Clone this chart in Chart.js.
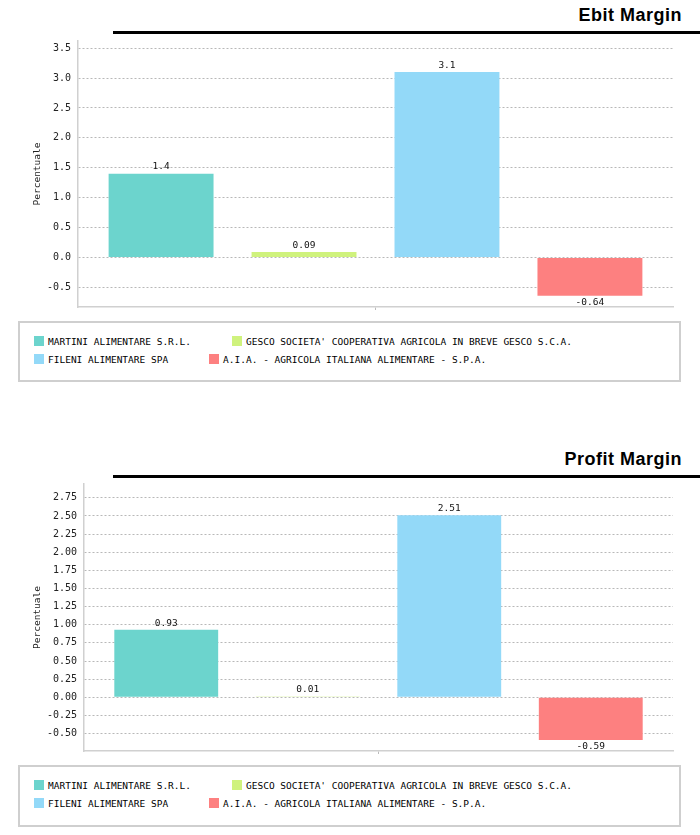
<!DOCTYPE html>
<html>
<head>
<meta charset="utf-8">
<script src="https://cdn.jsdelivr.net/npm/chart.js@4"></script>
<style>
  body { margin: 0; background: #fff; width: 700px; height: 835px; position: relative; overflow: hidden; }
  .title { position: absolute; right: 18px; font: bold 18px "Liberation Sans", Arial, sans-serif; letter-spacing: 0.5px; line-height: 18px; color: #000; }
  .rule { position: absolute; left: 113px; width: 587px; height: 3px; background: #000; }
  canvas { position: absolute; left: 0; }
  .legend { position: absolute; left: 18px; width: 663px; border: 2px solid #cfcfcf; padding: 10px 0 0 14px; box-sizing: border-box;
            font: 9.5px "DejaVu Sans Mono", monospace; color: #000; }
  .legend .row { height: 18px; line-height: 18px; white-space: nowrap; }
  .legend .item { display: inline-block; margin-right: 41px; }
  .legend .sw { display: inline-block; width: 10px; height: 10px; margin-right: 4px; vertical-align: -1px; }
</style>
</head>
<body>

<div class="title" style="top:6px">Ebit Margin</div>
<div class="rule" style="top:31px"></div>
<canvas id="ebitChart" width="700" height="292" style="top:28px"></canvas>
<div class="legend" id="ebitLegend" style="top:321px;height:61px"></div>

<div class="title" style="top:450px">Profit Margin</div>
<div class="rule" style="top:475px"></div>
<canvas id="profitChart" width="700" height="293" style="top:471px"></canvas>
<div class="legend" id="profitLegend" style="top:765px;height:62px"></div>

<script>
// Companies and colours
const companies = [
    'MARTINI ALIMENTARE S.R.L.',
    "GESCO SOCIETA' COOPERATIVA AGRICOLA IN BREVE GESCO S.C.A.",
    'FILENI ALIMENTARE SPA',
    'A.I.A. - AGRICOLA ITALIANA ALIMENTARE - S.P.A.'
];
const colors = ['#6cd4cd', '#cff27d', '#93d9f8', '#fd8080'];

// Values (percent)
const ebitValues = [1.4, 0.09, 3.1, -0.64];
const profitValues = [0.93, 0.01, 2.51, -0.59];

// Y axis ticks and range
const ebitTicks = [-0.5, 0, 0.5, 1.0, 1.5, 2.0, 2.5, 3.0, 3.5];
const ebitTickLabels = ['-0.5', '0.0', '0.5', '1.0', '1.5', '2.0', '2.5', '3.0', '3.5'];
const ebitRange = [-0.83, 3.62];
const profitTicks = [-0.5, -0.25, 0, 0.25, 0.5, 0.75, 1.0, 1.25, 1.5, 1.75, 2.0, 2.25, 2.5, 2.75];
const profitTickLabels = ['-0.50', '-0.25', '0.00', '0.25', '0.50', '0.75', '1.00', '1.25', '1.50', '1.75', '2.00', '2.25', '2.50', '2.75'];
const profitRange = [-0.74, 2.94];

const mono = 'DejaVu Sans Mono';

// Draws the value above (or below) every bar
const valueLabels = {
    id: 'valueLabels',
    afterDatasetsDraw(chart) {
        const ctx = chart.ctx;
        ctx.save();
        ctx.font = '9.5px "' + mono + '"';
        ctx.fillStyle = '#111';
        ctx.textAlign = 'center';
        chart.data.datasets.forEach((ds, i) => {
            chart.getDatasetMeta(i).data.forEach((bar, j) => {
                const v = ds.data[j];
                if (v >= 0) {
                    ctx.textBaseline = 'bottom';
                    ctx.fillText(String(v), bar.x, bar.y - 2);
                } else {
                    ctx.textBaseline = 'top';
                    ctx.fillText(String(v), bar.x, bar.y + 2);
                }
            });
        });
        ctx.restore();
    }
};

function makeChart(id, values, ticks, tickLabels, range, yWidth) {
    const ctx = document.getElementById(id).getContext('2d');
    return new Chart(ctx, {
        type: 'bar',
        data: {
            labels: [''],
            datasets: companies.map((name, i) => ({
                label: name,
                data: [values[i]],
                backgroundColor: colors[i],
                categoryPercentage: 0.961,
                barPercentage: 0.734
            }))
        },
        options: {
            responsive: false,
            animation: false,
            layout: { padding: { left: 32, right: 27, top: 10, bottom: 8 } },
            plugins: {
                legend: { display: false },
                tooltip: { enabled: false }
            },
            scales: {
                x: {
                    grid: { offset: false, drawOnChartArea: false, tickLength: 3, color: '#bbb' },
                    border: { color: '#d0d0d0', width: 1.5 },
                    ticks: { display: false }
                },
                y: {
                    min: range[0],
                    max: range[1],
                    afterBuildTicks: scale => { scale.ticks = ticks.map(v => ({ value: v })); },
                    afterFit: scale => { scale.width = yWidth; },
                    grid: { color: '#b8b8b8', drawTicks: false, lineWidth: 1, borderDash: [2, 2] },
                    border: { color: '#d0d0d0', width: 1.5, dash: [2, 2] },
                    ticks: {
                        padding: 7,
                        color: '#222',
                        font: { family: mono, size: 10 },
                        callback: (v, idx) => tickLabels[idx]
                    },
                    title: {
                        display: true,
                        text: 'Percentuale',
                        color: '#222',
                        font: { family: mono, size: 9.5 },
                        padding: { top: 0, bottom: 4 }
                    }
                }
            }
        },
        plugins: [valueLabels]
    });
}

// HTML legend, two items per row
function buildLegend(id) {
    const box = document.getElementById(id);
    let html = '';
    for (let r = 0; r < companies.length; r += 2) {
        html += '<div class="row">';
        companies.slice(r, r + 2).forEach((name, k) => {
            html += '<span class="item"><span class="sw" style="background:' + colors[r + k] + '"></span>' + name + '</span>';
        });
        html += '</div>';
    }
    box.innerHTML = html;
}

makeChart('ebitChart', ebitValues, ebitTicks, ebitTickLabels, ebitRange, 46);
makeChart('profitChart', profitValues, profitTicks, profitTickLabels, profitRange, 52);
buildLegend('ebitLegend');
buildLegend('profitLegend');
</script>
</body>
</html>
